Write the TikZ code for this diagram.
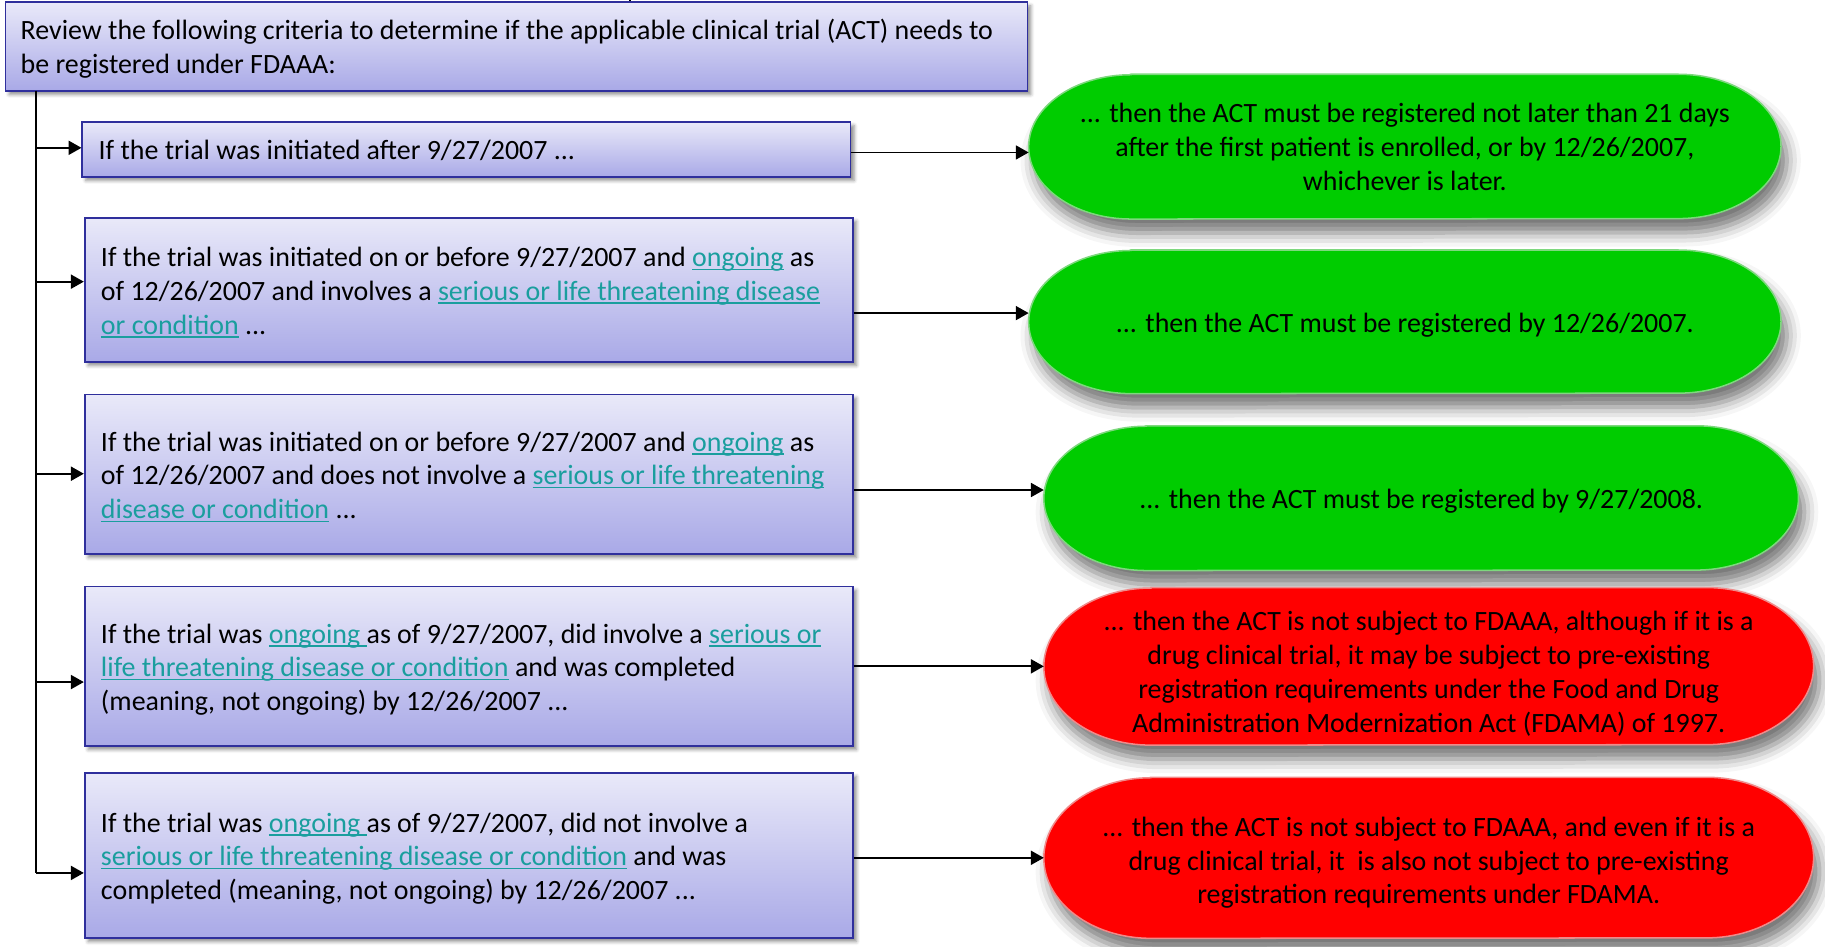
\documentclass[tikz,border=0pt]{standalone}
\usepackage{fontspec}
\setmainfont{Carlito}
\usetikzlibrary{arrows.meta,shadows.blur,backgrounds}
\definecolor{boxtop}{HTML}{E9E9F9}
\definecolor{boxbot}{HTML}{A9A9E7}
\definecolor{boxline}{HTML}{2F2F9C}
\definecolor{linkc}{HTML}{1A9E9E}
\definecolor{okfill}{HTML}{00CC00}
\definecolor{okrim}{HTML}{7ED87E}
\definecolor{nofill}{HTML}{FF0000}
\definecolor{norim}{HTML}{F08A8A}
% hyperlink-style text: teal with an underline close to the baseline
\newcommand\lnk[1]{\textcolor{linkc}{\setbox0\hbox{#1}\rlap{\rule[-3pt]{\wd0}{1.3pt}}\box0}}
% capsule with half-elliptic ends around a node: style, node, x radius, y radius
\newcommand\capsule[4]{%
  \path[#1] ([xshift=#3]#2.north west) -- ([xshift=-#3]#2.north east)
    arc[start angle=90, end angle=-90, x radius=#3, y radius=#4]
    -- ([xshift=#3]#2.south west)
    arc[start angle=270, end angle=90, x radius=#3, y radius=#4] -- cycle;}
\begin{document}
\begin{tikzpicture}[x=1pt,y=-1pt,
  font=\fontsize{24}{29}\selectfont,
  boxbase/.style={draw=boxline, line width=1.5pt, top color=boxtop, bottom color=boxbot,
    align=flush left, anchor=west, inner xsep=14pt, inner ysep=0pt, text height=17pt,
    blur shadow={shadow xshift=3pt, shadow yshift=-3pt, shadow blur radius=3pt, shadow opacity=45}},
  crit/.style={boxbase, text width=632pt, text depth=57pt},
  pill/.style={rectangle, inner sep=0pt, align=flush center, text width=620pt, text height=18pt},
  capshadow/.style={blur shadow={shadow xshift=5pt, shadow yshift=-12pt, shadow blur radius=12pt, shadow opacity=55}},
  okcap/.style={capshadow, fill=okfill, draw=okrim, line width=1.3pt},
  nocap/.style={capshadow, fill=nofill, draw=norim, line width=1.3pt},
  link/.style={line width=1.5pt, black},
  arr/.style={link, -{Triangle[length=11pt,width=12pt]}},
]
\useasboundingbox (0,0) rectangle (1568,813);

% heading
\node[boxbase, text width=852pt, text depth=29pt, minimum height=76pt, inner xsep=13pt] (top) at (4,40)
  {Review the following criteria to determine if the applicable clinical trial (ACT) needs to\\be registered under FDAAA:};

% criteria
\node[boxbase, text width=632pt, text depth=0pt, minimum height=47pt] (b1) at (70,128.5)
  {If the trial was initiated after 9/27/2007 ...};
\node[crit, minimum height=124pt] (b2) at (72,249)
  {If the trial was initiated on or before 9/27/2007 and \lnk{ongoing} as\\
   of 12/26/2007 and involves a \lnk{serious or life threatening disease}\\
   \lnk{or condition} ...};
\node[crit, minimum height=137pt] (b3) at (72,407.5)
  {If the trial was initiated on or before 9/27/2007 and \lnk{ongoing} as\\
   of 12/26/2007 and does not involve a \lnk{serious or life threatening}\\
   \lnk{disease or condition} ...};
\node[crit, minimum height=137pt] (b4) at (72,572.5)
  {If the trial was \lnk{ongoing }as of 9/27/2007, did involve a \lnk{serious or}\\
   \lnk{life threatening disease or condition} and was completed\\
   (meaning, not ongoing) by 12/26/2007 ...};
\node[crit, minimum height=142pt] (b5) at (72,735)
  {If the trial was \lnk{ongoing }as of 9/27/2007, did not involve a\\
   \lnk{serious or life threatening disease or condition} and was\\
   completed (meaning, not ongoing) by 12/26/2007 ...};

% outcomes
\node[pill, text depth=59pt, minimum width=646pt, minimum height=124pt] (g1) at (1207,126)
  {... then the ACT must be registered not later than 21 days\\
   after the first patient is enrolled, or by 12/26/2007,\\
   whichever is later.};
\node[pill, text depth=0pt, minimum width=646pt, minimum height=123pt] (g2) at (1207,276.5)
  {... then the ACT must be registered by 12/26/2007.};
\node[pill, text depth=0pt, minimum width=648pt, minimum height=124pt] (g3) at (1221,428)
  {... then the ACT must be registered by 9/27/2008.};
\node[pill, text depth=79pt, minimum width=661pt, minimum height=135pt] (r1) at (1227.5,572.5)
  {... then the ACT is not subject to FDAAA, although if it is a\\
   drug clinical trial, it may be subject to pre-existing\\
   registration requirements under the Food and Drug\\
   Administration Modernization Act (FDAMA) of 1997.};
\node[pill, text depth=55pt, minimum width=661pt, minimum height=138pt] (r2) at (1227.5,737)
  {... then the ACT is not subject to FDAAA, and even if it is a\\
   drug clinical trial, it \ is also not subject to pre-existing\\
   registration requirements under FDAMA.};

\begin{pgfonlayer}{background}
  \capsule{okcap}{g1}{88pt}{62pt}
  \capsule{okcap}{g2}{88pt}{61.5pt}
  \capsule{okcap}{g3}{88pt}{62pt}
  \capsule{nocap}{r1}{92pt}{67.5pt}
  \capsule{nocap}{r2}{92pt}{69pt}
\end{pgfonlayer}

% trunk from the heading down the left side
\coordinate (tick) at (541,0);
\coordinate (t0) at (31,78);
\coordinate (j1) at (31,127);
\coordinate (j2) at (31,242);
\coordinate (j3) at (31,407);
\coordinate (j4) at (31,586);
\coordinate (j5) at (31,750);
\draw[link] (tick) -- (tick |- top.north);
\draw[link] (t0) -- (j5);
\draw[arr] (j1) -- (j1 -| b1.west);
\draw[arr] (j2) -- (j2 -| b2.west);
\draw[arr] (j3) -- (j3 -| b3.west);
\draw[arr] (j4) -- (j4 -| b4.west);
\draw[arr] (j5) -- (j5 -| b5.west);

% criterion -> outcome
\draw[arr] ([yshift=-2.5pt]b1.east) -- ([yshift=-2.5pt]b1.east -| g1.west);
\draw[arr] ([yshift=-20pt]b2.east) -- ([yshift=-20pt]b2.east -| g2.west);
\draw[arr] ([yshift=-13.5pt]b3.east) -- ([yshift=-13.5pt]b3.east -| g3.west);
\draw[arr] (b4.east) -- (b4.east -| r1.west);
\draw[arr] ([yshift=-2pt]b5.east) -- ([yshift=-2pt]b5.east -| r2.west);
\end{tikzpicture}
\end{document}
